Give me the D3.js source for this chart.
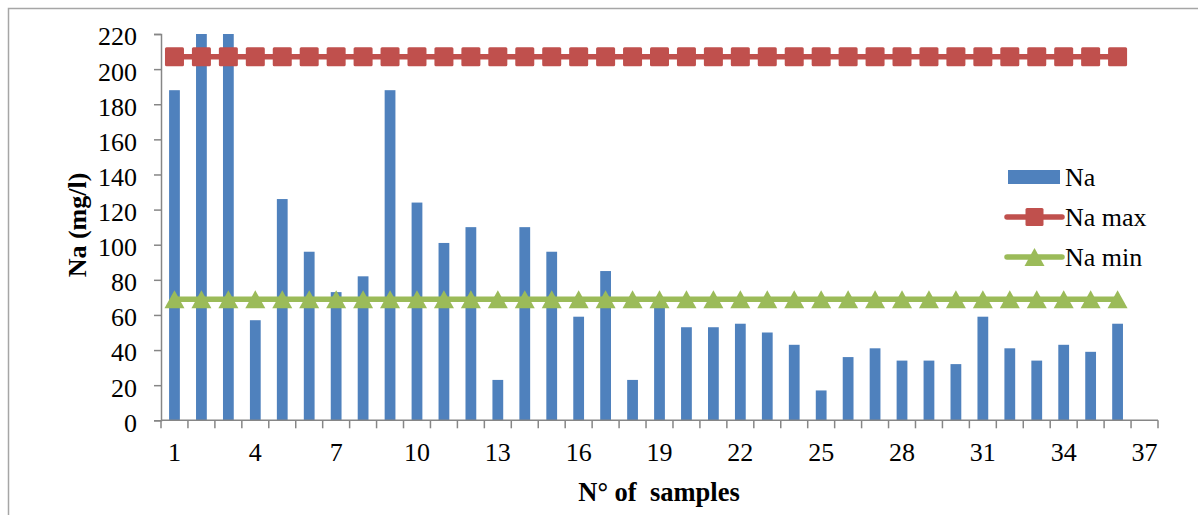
<!DOCTYPE html>
<html>
<head>
<meta charset="utf-8">
<script src="https://cdn.jsdelivr.net/npm/d3@7/dist/d3.min.js"></script>
<style>
  html, body { margin: 0; padding: 0; background: #fff; }
  svg { display: block; }
  svg text { font-family: "Liberation Serif", "Times New Roman", serif; }
</style>
</head>
<body>
<svg id="chart" width="1198" height="515"></svg>
<script>
// Sample numbers shown on the category axis (37 slots, samples 1–36 measured)
const samples = d3.range(1, 38);
const tickSamples = [1, 4, 7, 10, 13, 16, 19, 22, 25, 28, 31, 34, 37];

// Sodium concentration per sample (mg/l)
const naValues = [188, 220, 220, 57, 126, 96, 73, 82, 188, 124,
                  101, 110, 23, 110, 96, 59, 85, 23, 65, 53,
                  53, 55, 50, 43, 17, 36, 41, 34, 34, 32,
                  59, 41, 34, 43, 39, 55];

// Guideline limits (mg/l)
const naMax = 207;
const naMin = 69;

const yTicks = [0, 20, 40, 60, 80, 100, 120, 140, 160, 180, 200, 220];

const seriesNames = ["Na", "Na max", "Na min"];
const colors = { bar: "#4F81BD", max: "#C0504D", min: "#9BBB59", axis: "#868686" };

const svg = d3.select("#chart");

// Outer frame
svg.append("rect")
  .attr("x", 8.5).attr("y", 8.5)
  .attr("width", 1300).attr("height", 600)
  .attr("fill", "none").attr("stroke", "#a6a6a6").attr("stroke-width", 1.5);

const plot = { left: 161, right: 1158, top: 34, bottom: 420.3 };

const x = d3.scaleBand()
  .domain(samples)
  .range([plot.left, plot.right])
  .paddingInner(0).paddingOuter(0);

const y = d3.scaleLinear()
  .domain([0, 220])
  .range([plot.bottom, plot.top]);

const cx = s => x(s) + x.bandwidth() / 2;

// Bars
const barW = x.bandwidth() * 0.4;
svg.append("g").selectAll("rect")
  .data(naValues)
  .join("rect")
  .attr("x", (d, i) => cx(i + 1) - barW / 2)
  .attr("y", d => y(d))
  .attr("width", barW)
  .attr("height", d => y(0) - y(d))
  .attr("fill", colors.bar);

// Y axis
const yAxis = svg.append("g")
  .attr("transform", `translate(${plot.left},0)`)
  .call(d3.axisLeft(y).tickValues(yTicks).tickSize(7).tickPadding(17).tickFormat(d3.format("d")));
yAxis.attr("font-family", null).attr("font-size", null);
yAxis.select(".domain").attr("stroke", colors.axis).attr("stroke-width", 1.5);
yAxis.selectAll(".tick line").attr("stroke", colors.axis).attr("stroke-width", 1.5);
yAxis.selectAll(".tick text")
  .attr("font-size", 26).attr("fill", "#000")
  .attr("dy", "0.42em");

// X axis: boundary tick marks between categories
const xAxisG = svg.append("g").attr("transform", `translate(0,${plot.bottom})`);
xAxisG.append("line")
  .attr("x1", plot.left).attr("x2", plot.right)
  .attr("stroke", colors.axis).attr("stroke-width", 1.5);
const boundaries = samples.map(s => x(s)).concat([plot.right]);
xAxisG.selectAll("line.tk")
  .data(boundaries)
  .join("line")
  .attr("class", "tk")
  .attr("x1", d => d).attr("x2", d => d)
  .attr("y1", 0).attr("y2", 8)
  .attr("stroke", colors.axis).attr("stroke-width", 1.5);
xAxisG.selectAll("text")
  .data(tickSamples)
  .join("text")
  .attr("x", d => cx(d))
  .attr("y", 41)
  .attr("text-anchor", "middle")
  .attr("font-size", 26)
  .attr("fill", "#000")
  .text(d => d);

// Limit lines with markers
const lineGen = d3.line().x(d => cx(d.s)).y(d => y(d.v));
const maxPts = naValues.map((d, i) => ({ s: i + 1, v: naMax }));
const minPts = naValues.map((d, i) => ({ s: i + 1, v: naMin }));

const sq = 19;
const triW = 20, triH = 18;
const triPath = `M0,${-triH / 2}L${triW / 2},${triH / 2}L${-triW / 2},${triH / 2}Z`;

svg.append("path").datum(maxPts)
  .attr("d", lineGen).attr("fill", "none")
  .attr("stroke", colors.max).attr("stroke-width", 5.5);
svg.append("g").selectAll("rect")
  .data(maxPts).join("rect")
  .attr("x", d => cx(d.s) - sq / 2).attr("y", d => y(d.v) - sq / 2)
  .attr("width", sq).attr("height", sq).attr("rx", 1.5)
  .attr("fill", colors.max);

svg.append("path").datum(minPts)
  .attr("d", lineGen).attr("fill", "none")
  .attr("stroke", colors.min).attr("stroke-width", 5.5);
svg.append("g").selectAll("path")
  .data(minPts).join("path")
  .attr("transform", d => `translate(${cx(d.s)},${y(d.v)})`)
  .attr("d", triPath)
  .attr("fill", colors.min);

// Axis titles
svg.append("text")
  .attr("transform", "translate(86,225) rotate(-90)")
  .attr("text-anchor", "middle")
  .attr("font-size", 26).attr("font-weight", "bold").attr("fill", "#000")
  .text("Na (mg/l)");

svg.append("text")
  .attr("x", 659).attr("y", 501)
  .attr("text-anchor", "middle")
  .attr("font-size", 26.5).attr("font-weight", "bold").attr("fill", "#000")
  .attr("xml:space", "preserve")
  .style("white-space", "pre")
  .text("N° of  samples");

// Legend
const legend = svg.append("g");
const lx0 = 1007, lx1 = 1062, ltx = 1065;
const rowsY = [177, 217, 257];

legend.append("rect")
  .attr("x", 1008).attr("y", rowsY[0] - 7)
  .attr("width", 52).attr("height", 14)
  .attr("fill", colors.bar);

legend.append("line")
  .attr("x1", lx0).attr("x2", lx1).attr("y1", rowsY[1]).attr("y2", rowsY[1])
  .attr("stroke", colors.max).attr("stroke-width", 5.5).attr("stroke-linecap", "round");
legend.append("rect")
  .attr("x", (lx0 + lx1) / 2 - 9).attr("y", rowsY[1] - 9)
  .attr("width", 18).attr("height", 18).attr("rx", 1.5)
  .attr("fill", colors.max);

legend.append("line")
  .attr("x1", lx0).attr("x2", lx1).attr("y1", rowsY[2]).attr("y2", rowsY[2])
  .attr("stroke", colors.min).attr("stroke-width", 5.5).attr("stroke-linecap", "round");
legend.append("path")
  .attr("transform", `translate(${(lx0 + lx1) / 2},${rowsY[2]})`)
  .attr("d", triPath)
  .attr("fill", colors.min);

legend.selectAll("text")
  .data(seriesNames)
  .join("text")
  .attr("x", ltx)
  .attr("y", (d, i) => rowsY[i] + 9)
  .attr("font-size", 26)
  .attr("fill", "#000")
  .text(d => d);
</script>
</body>
</html>
